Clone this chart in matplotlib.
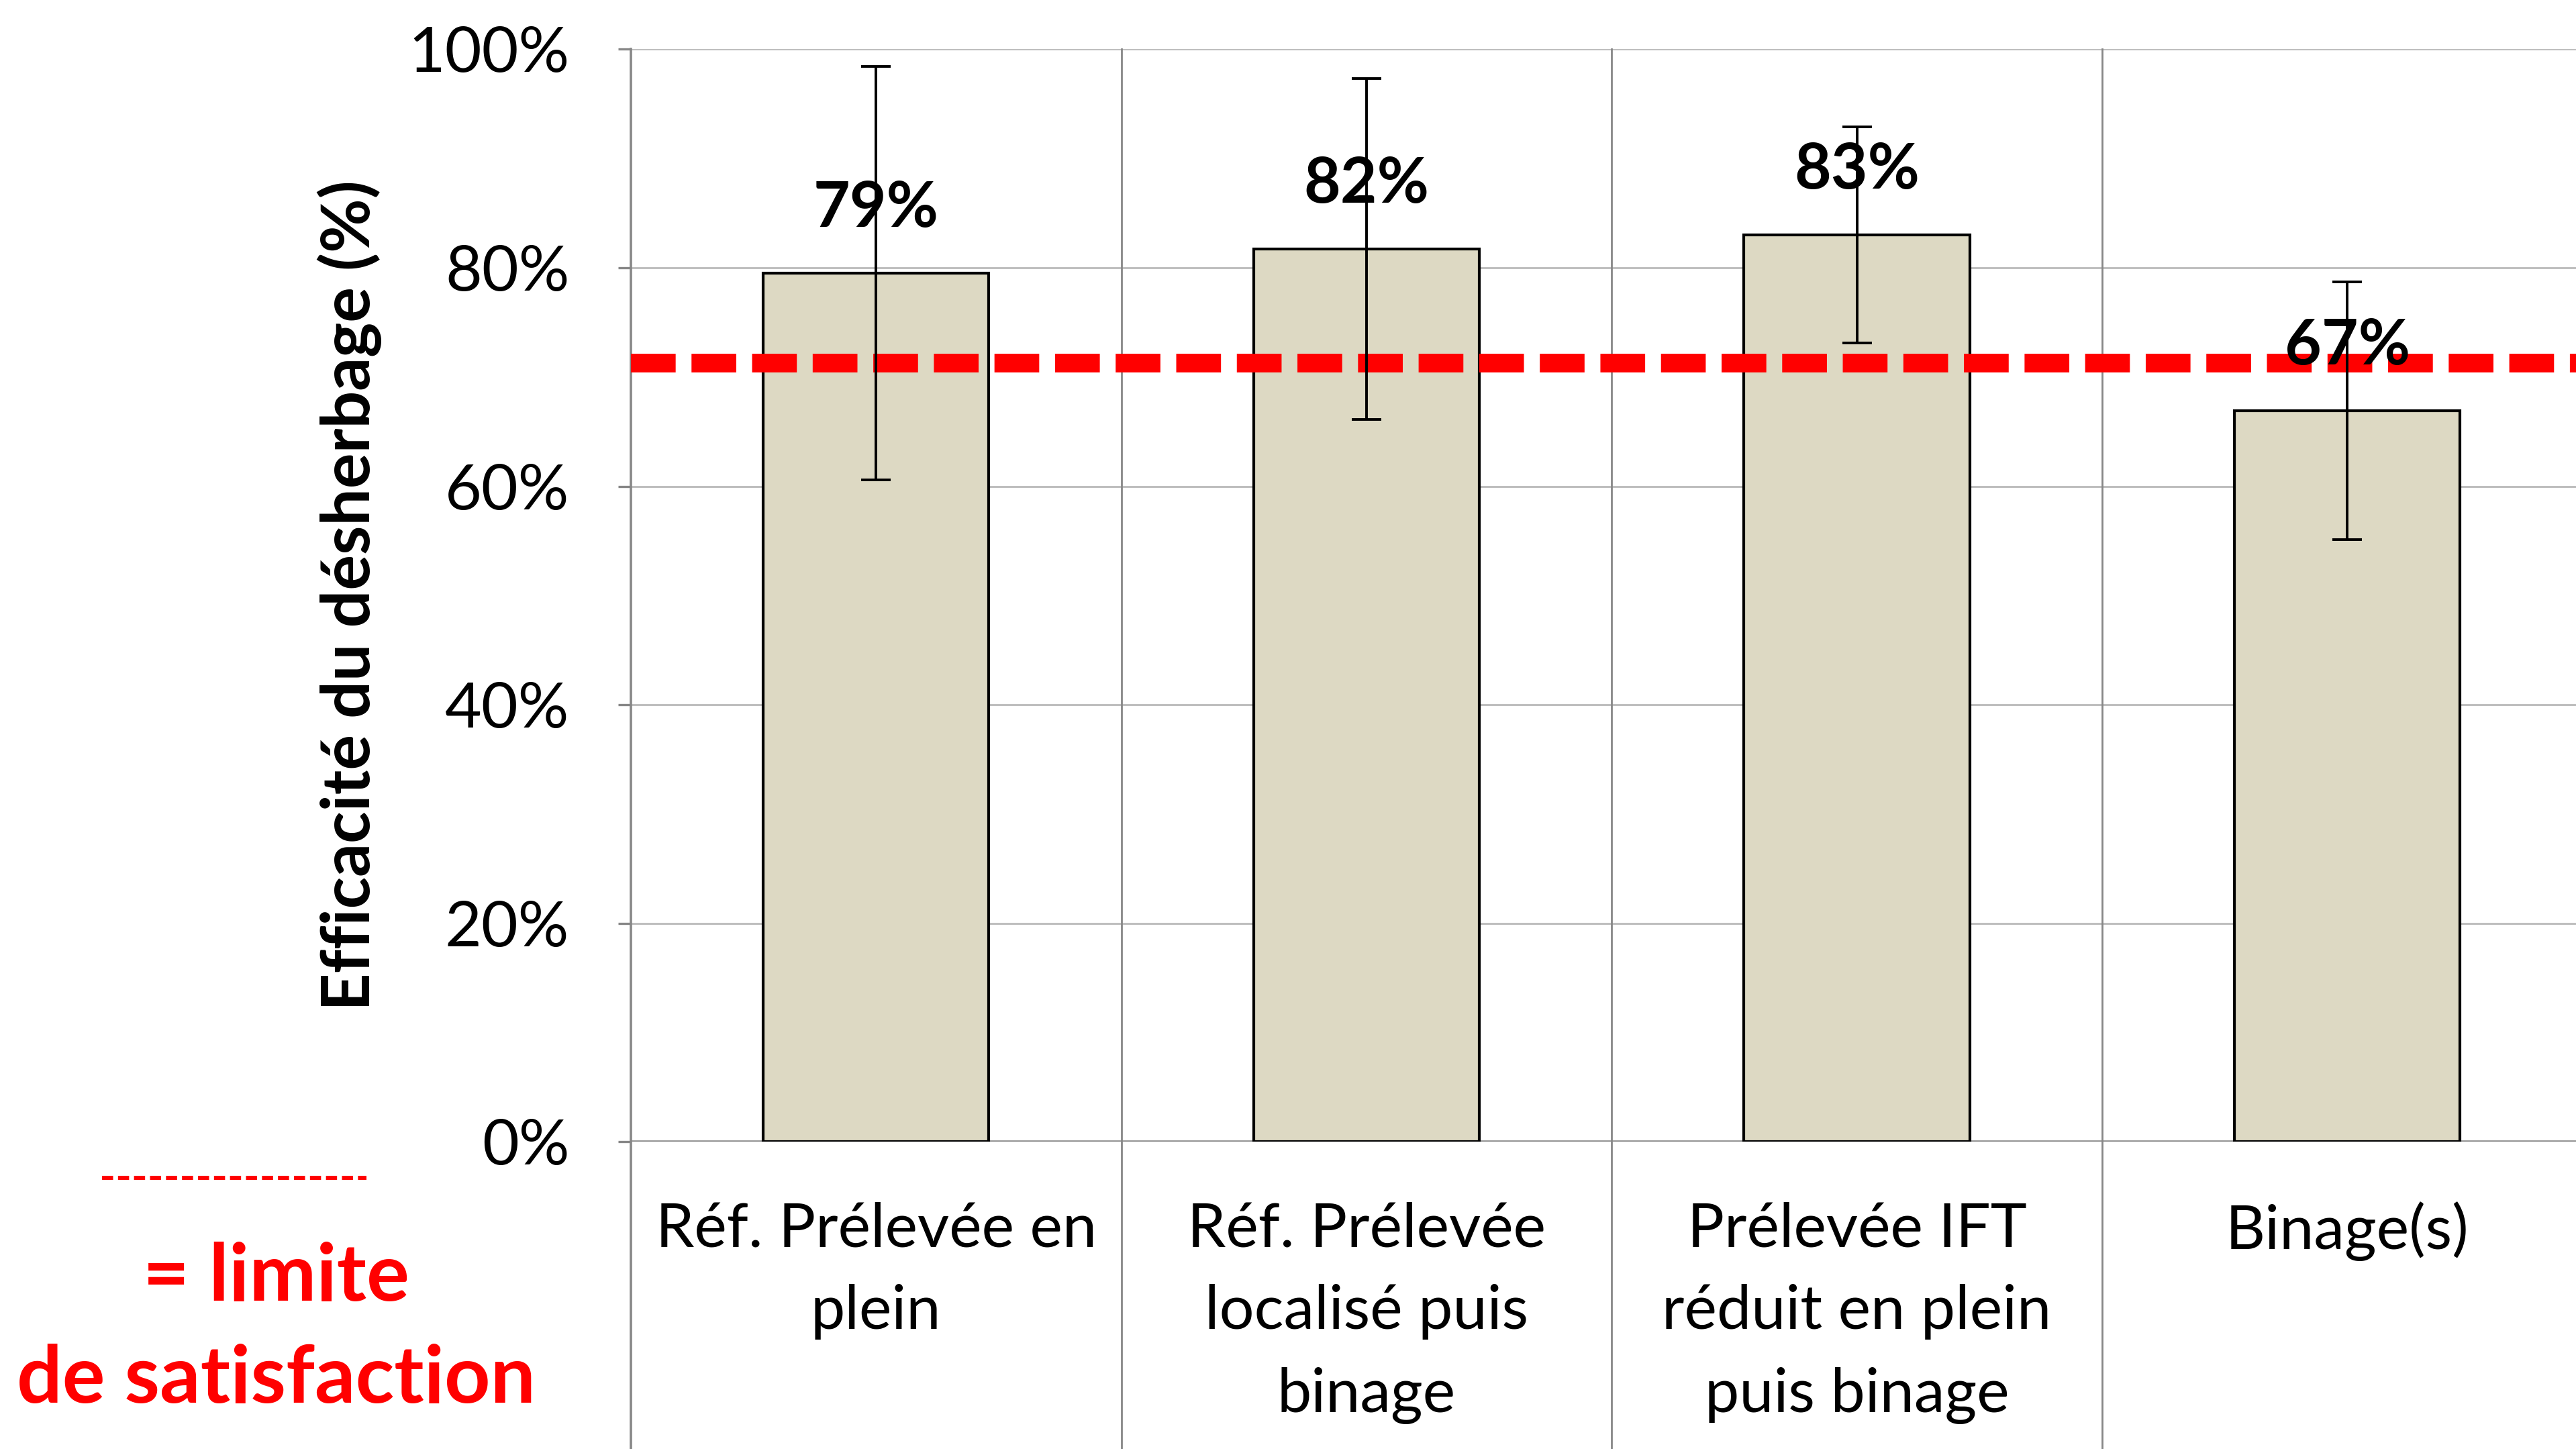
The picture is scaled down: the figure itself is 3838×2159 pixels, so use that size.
import matplotlib
matplotlib.use("Agg")
import matplotlib.pyplot as plt
from matplotlib.lines import Line2D

categories = ["Réf. Prélevée en\nplein",
              "Réf. Prélevée\nlocalisé puis\nbinage",
              "Prélevée IFT\nréduit en plein\npuis binage",
              "Binage(s)"]
values = [79.5, 81.7, 83.0, 66.9]
errors = [18.9, 15.6, 9.9, 11.8]
labels = ["79%", "82%", "83%", "67%"]
limit_value = 71.3
yticks = [0, 20, 40, 60, 80, 100]
ytick_labels = ["0%", "20%", "40%", "60%", "80%", "100%"]

FONT = ["Lato", "DejaVu Sans"]
plt.rcParams["font.family"] = FONT

DPI = 200
fig = plt.figure(figsize=(3838 / DPI, 2159 / DPI), dpi=DPI)
ax = fig.add_axes([384 / 1568, 1 - 695 / 882, 4 * 298.5 / 1568, 665 / 882])

GRID = "#BFBFBF"
AXC = "#878787"
x = list(range(len(categories)))

ax.bar(x, values, width=0.46, color="#DDD9C3", edgecolor="black", linewidth=1.5, zorder=2)

ax.axhline(limit_value, color="#FF0000", linewidth=10, dashes=(2.4, 0.85),
           dash_capstyle="butt", zorder=3)

ax.errorbar(x, values, yerr=errors, fmt="none", ecolor="black", elinewidth=1.4,
            capsize=8, capthick=1.4, zorder=4)

for xi, v, lab in zip(x, values, labels):
    ax.text(xi, v + 5.9, lab, ha="center", va="center", fontsize=34,
            fontweight="bold", color="black", zorder=5)

ax.set_xlim(-0.5, 3.5)
ax.set_ylim(0, 100)
ax.set_yticks(yticks)
ax.set_yticklabels(ytick_labels, fontsize=34)
ax.set_xticks(x)
ax.set_xticklabels(categories, fontsize=33, linespacing=1.6)
ax.tick_params(axis="x", length=0, pad=32)
ax.tick_params(axis="y", direction="out", length=7, width=1.2, color=AXC, pad=26)

for s in ax.spines.values():
    s.set_visible(False)

for yv in yticks[1:]:
    ax.axhline(yv, color=GRID, linewidth=1.1, zorder=0)
ax.axhline(0, color=AXC, linewidth=1.3, zorder=1)

for xv in [-0.5, 0.5, 1.5, 2.5, 3.5]:
    ax.axvline(xv, ymin=-0.3, ymax=1.0, color=AXC,
               linewidth=1.3 if xv == -0.5 else 1.0, clip_on=False, zorder=1)

ax.set_ylabel("Efficacité du désherbage (%)", fontsize=35.5, fontweight="bold")
ax.yaxis.set_label_coords(-0.127, 0.5)

# Legend-like annotation for the limit line
fig.add_artist(Line2D([62 / 1568, 223 / 1568], [1 - 717 / 882, 1 - 717 / 882],
                      color="#FF0000", linewidth=2.2, dashes=(2.7, 1.2),
                      dash_capstyle="butt"))
fig.text(168 / 1568, 1 - 778 / 882, "= limite", color="#FF0000", fontsize=43,
         fontweight="bold", ha="center", va="center")
fig.text(168 / 1568, 1 - 840 / 882, "de satisfaction", color="#FF0000", fontsize=43,
         fontweight="bold", ha="center", va="center")

fig.savefig("out.png", dpi=DPI, facecolor="white")
